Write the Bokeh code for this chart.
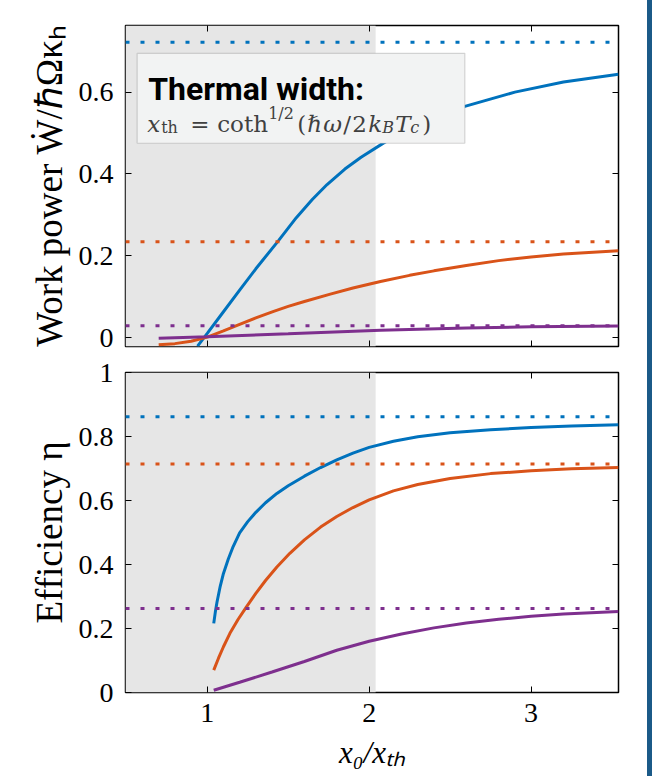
from bokeh.plotting import figure
from bokeh.models import Range1d, LinearAxis, FixedTicker, BoxAnnotation, Span, Label, Spacer
from bokeh.layouts import column, row
from bokeh.embed import file_html
from bokeh.resources import INLINE

# ---------------- data ----------------
x_range_limits = [0.495, 3.54]
power_range = [-0.022, 0.763]
eff_range = [0.0, 1.0]
thermal_width_end = 2.04

x_ticks = [1, 2, 3]
x_tick_labels = ["1", "2", "3"]
power_ticks = [0, 0.2, 0.4, 0.6]
power_tick_labels = ["0", "0.2", "0.4", "0.6"]
eff_ticks = [0, 0.2, 0.4, 0.6, 0.8, 1.0]
eff_tick_labels = ["0", "0.2", "0.4", "0.6", "0.8", "1"]

series_colors = ["#0072BD", "#D95319", "#7E2F8E"]

# work power (top panel)
x_power_blue = [0.94, 1.00, 1.10, 1.20, 1.30, 1.44, 1.55, 1.65, 1.74, 1.85, 1.95, 2.09, 2.30, 2.58, 2.90, 3.20, 3.54]
y_power_blue = [-0.021, 0.010, 0.063, 0.116, 0.168, 0.237, 0.293, 0.338, 0.374, 0.412, 0.441, 0.476, 0.522, 0.564, 0.600, 0.625, 0.644]
x_power_red = [0.70, 0.80, 0.90, 1.00, 1.10, 1.20, 1.30, 1.41, 1.50, 1.60, 1.76, 1.90, 2.07, 2.25, 2.40,
               2.60, 2.80, 3.00, 3.20, 3.54]
y_power_red = [-0.018, -0.015, -0.009, 0.001, 0.016, 0.032, 0.048, 0.064, 0.076, 0.088, 0.106, 0.121, 0.137,
               0.152, 0.163, 0.176, 0.188, 0.197, 0.204, 0.212]
x_power_purple = [0.70, 1.00, 1.50, 2.07, 2.60, 3.00, 3.54]
y_power_purple = [-0.002, 0.002, 0.009, 0.018, 0.023, 0.026, 0.028]
power_limits = [0.722, 0.234, 0.029]

# efficiency (bottom panel)
x_eff_blue = [1.04, 1.05, 1.06, 1.08, 1.10, 1.13, 1.16, 1.20, 1.25, 1.30, 1.36, 1.43, 1.50, 1.60, 1.70,
              1.80, 1.90, 2.00, 2.15, 2.30, 2.50, 2.75, 3.00, 3.25, 3.54]
y_eff_blue = [0.216, 0.252, 0.282, 0.332, 0.372, 0.417, 0.456, 0.499, 0.534, 0.563, 0.593, 0.622, 0.646,
              0.676, 0.703, 0.727, 0.748, 0.766, 0.785, 0.799, 0.812, 0.821, 0.828, 0.833, 0.837]
x_eff_red = [1.04, 1.07, 1.10, 1.14, 1.19, 1.24, 1.30, 1.36, 1.43, 1.51, 1.60, 1.70, 1.80, 1.90, 2.00,
             2.15, 2.30, 2.50, 2.75, 3.00, 3.25, 3.54]
y_eff_red = [0.070, 0.108, 0.143, 0.185, 0.228, 0.266, 0.310, 0.350, 0.392, 0.435, 0.477, 0.517, 0.550,
             0.578, 0.602, 0.630, 0.650, 0.669, 0.684, 0.693, 0.699, 0.703]
x_eff_purple = [1.04, 1.20, 1.40, 1.60, 1.80, 2.00, 2.20, 2.40, 2.60, 2.80, 3.00, 3.20, 3.54]
y_eff_purple = [0.007, 0.032, 0.064, 0.097, 0.132, 0.160, 0.183, 0.202, 0.217, 0.229, 0.238, 0.245, 0.253]
eff_limits = [0.862, 0.714, 0.2625]

title_text = "Thermal width:"
ylabel_power = "Work power Ẇ/ℏΩκₕ"
ylabel_eff = "Efficiency η"
xlabel = "x₀/xₜₕ"

# ---------------- styling ----------------
SERIF = "Liberation Serif"
MATHFONT = "DejaVu Serif"
TICK_SIZE = "28px"
LABEL_SIZE = "37px"
FIG_W = 647

shared_x = Range1d(*x_range_limits)


def style_axis(ax, ticks, labels, show_labels=True):
    ax.ticker = FixedTicker(ticks=ticks)
    ax.major_tick_in = 6
    ax.major_tick_out = 0
    ax.major_tick_line_color = "black"
    ax.major_tick_line_width = 1
    ax.minor_tick_line_color = None
    ax.axis_line_color = None
    ax.major_label_text_font = SERIF
    if show_labels:
        ax.major_label_overrides = {t: l for t, l in zip(ticks, labels)}
        ax.major_label_text_font_size = TICK_SIZE
        ax.major_label_text_color = "black"
    else:
        ax.major_label_text_font_size = "1px"
        ax.major_label_text_color = None
        ax.major_label_standoff = 0


def mirror_axis(p, ticks, side):
    ax = LinearAxis()
    style_axis(ax, ticks, None, show_labels=False)
    p.add_layout(ax, side)


def make_fig(height, yr, top, bottom):
    p = figure(width=FIG_W, height=height, x_range=shared_x, y_range=Range1d(*yr),
               output_backend="svg", toolbar_location=None,
               min_border_left=125, min_border_right=29,
               min_border_top=top, min_border_bottom=bottom,
               background_fill_color="white", border_fill_color="white")
    p.grid.visible = False
    p.outline_line_color = "black"
    p.outline_line_width = 1.5
    p.outline_line_alpha = 1
    p.add_layout(BoxAnnotation(right=thermal_width_end, fill_color="#e6e6e6", fill_alpha=1,
                               line_color=None, level="underlay"))
    return p


def style_ylabel(ax, text):
    ax.major_label_standoff = 12
    ax.axis_label = text
    ax.axis_label_text_font = SERIF
    ax.axis_label_text_font_size = LABEL_SIZE
    ax.axis_label_text_font_style = "normal"
    ax.axis_label_text_color = "black"
    ax.axis_label_standoff = 6


# ---------------- top panel ----------------
p1 = make_fig(354, power_range, 25, 8)
style_axis(p1.xaxis[0], x_ticks, x_tick_labels, show_labels=False)
style_axis(p1.yaxis[0], power_ticks, power_tick_labels)
style_ylabel(p1.yaxis[0], ylabel_power)
mirror_axis(p1, x_ticks, "above")
mirror_axis(p1, power_ticks, "right")

for v, c in zip(power_limits, series_colors):
    p1.add_layout(Span(location=v, dimension="width", line_color=c, line_width=3, line_dash="4 11"))
for xs, ys, c in zip([x_power_blue, x_power_red, x_power_purple],
                     [y_power_blue, y_power_red, y_power_purple], series_colors):
    p1.line(xs, ys, line_color=c, line_width=3)

# info box
box_left, box_right, box_top, box_bottom = 0.567, 2.591, 0.695, 0.475
p1.add_layout(BoxAnnotation(left=box_left, right=box_right, top=box_top, bottom=box_bottom,
                            fill_color="#f2f3f3", fill_alpha=1, line_color="#7f7f7f",
                            line_width=1.2, level="annotation"))

MATH = "#404040"
M, S, U = "23px", "16px", "16px"
pieces = [
    # text, dx, dy(down from box top), size, font, style, color
    (title_text, 11, 36, "32px", "Roboto", "bold", "black"),
    ("x", 10, 70.7, M, MATHFONT, "italic", MATH),
    ("th", 24, 74.2, S, MATHFONT, "normal", MATH),
    ("=", 53, 70.7, M, MATHFONT, "normal", MATH),
    ("coth", 80, 70.7, M, MATHFONT, "normal", MATH),
    ("1/2", 131, 59.7, U, MATHFONT, "normal", MATH),
    ("(", 160, 70.7, M, MATHFONT, "normal", MATH),
    ("ℏ", 170, 70.7, M, MATHFONT, "normal", MATH),
    ("ω", 186, 70.7, M, MATHFONT, "italic", MATH),
    ("/", 206, 70.7, M, MATHFONT, "normal", MATH),
    ("2", 215, 70.7, M, MATHFONT, "normal", MATH),
    ("k", 231, 70.7, M, MATHFONT, "italic", MATH),
    ("B", 245, 74.2, S, MATHFONT, "italic", MATH),
    ("T", 258, 70.7, M, MATHFONT, "italic", MATH),
    ("c", 273, 74.2, S, MATHFONT, "italic", MATH),
    (")", 285, 70.7, M, MATHFONT, "normal", MATH),
]
for txt, dx, dy, size, font, style, color in pieces:
    p1.add_layout(Label(x=box_left, y=box_top, x_offset=dx, y_offset=-dy, text=txt,
                        text_font=font, text_font_size=size, text_font_style=style,
                        text_color=color, text_baseline="alphabetic", text_align="left"))

# ---------------- bottom panel ----------------
p2 = make_fig(422, eff_range, 18, 84)
style_axis(p2.xaxis[0], x_ticks, x_tick_labels)
p2.xaxis[0].major_label_standoff = 11
p2.xaxis[0].axis_label = xlabel
p2.xaxis[0].axis_label_text_font = SERIF
p2.xaxis[0].axis_label_text_font_size = "31px"
p2.xaxis[0].axis_label_text_font_style = "italic"
p2.xaxis[0].axis_label_text_color = "black"
p2.xaxis[0].axis_label_standoff = 10
style_axis(p2.yaxis[0], eff_ticks, eff_tick_labels)
style_ylabel(p2.yaxis[0], ylabel_eff)
mirror_axis(p2, x_ticks, "above")
mirror_axis(p2, eff_ticks, "right")

for v, c in zip(eff_limits, series_colors):
    p2.add_layout(Span(location=v, dimension="width", line_color=c, line_width=3, line_dash="4 11"))
for xs, ys, c in zip([x_eff_blue, x_eff_red, x_eff_purple],
                     [y_eff_blue, y_eff_red, y_eff_purple], series_colors):
    p2.line(xs, ys, line_color=c, line_width=3)

bar = Spacer(width=5, height=776, styles={"background-color": "#1b5a88"})
layout = row(column(p1, p2), bar)

open("out.html", "w").write(file_html(layout, INLINE))
